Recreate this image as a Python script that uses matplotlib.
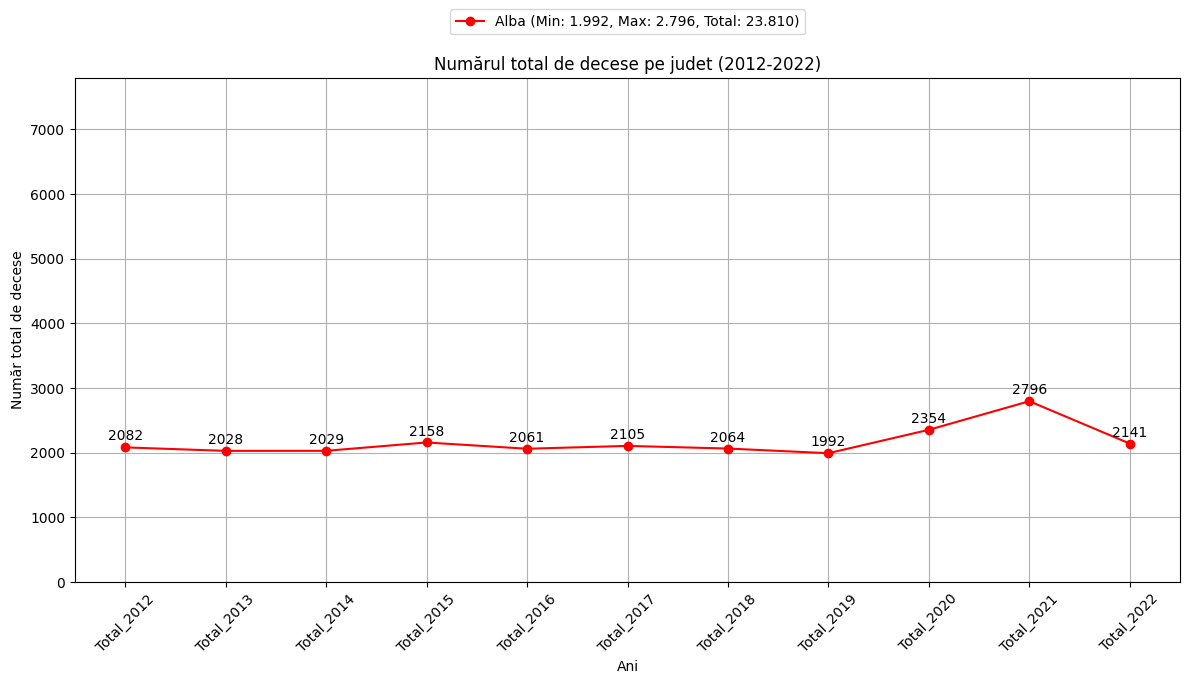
import matplotlib
matplotlib.use("Agg")
import matplotlib.pyplot as plt

years = ["Total_2012", "Total_2013", "Total_2014", "Total_2015", "Total_2016", "Total_2017",
         "Total_2018", "Total_2019", "Total_2020", "Total_2021", "Total_2022"]
deaths = [2082, 2028, 2029, 2158, 2061, 2105, 2064, 1992, 2354, 2796, 2141]
county = "Alba"

fig = plt.figure(figsize=(11.9, 6.84), dpi=100)
ax = fig.add_axes([75/1190, 1 - 582/684, (1180-75)/1190, (582-78)/684])

label = f"{county} (Min: 1.992, Max: 2.796, Total: 23.810)"
ax.plot(years, deaths, marker="o", color="red", label=label)
for x, y in zip(years, deaths):
    ax.annotate(str(y), (x, y), textcoords="offset points", xytext=(0, 5), ha="center")

ax.set_ylim(0, 7795)
ax.set_title("Numărul total de decese pe judet (2012-2022)")
ax.set_xlabel("Ani")
ax.set_ylabel("Număr total de decese")
ax.grid(True)
plt.setp(ax.get_xticklabels(), rotation=45)
ax.legend(loc="upper center", bbox_to_anchor=(0.5, 1.15))

fig.savefig("out.png", dpi=100)
